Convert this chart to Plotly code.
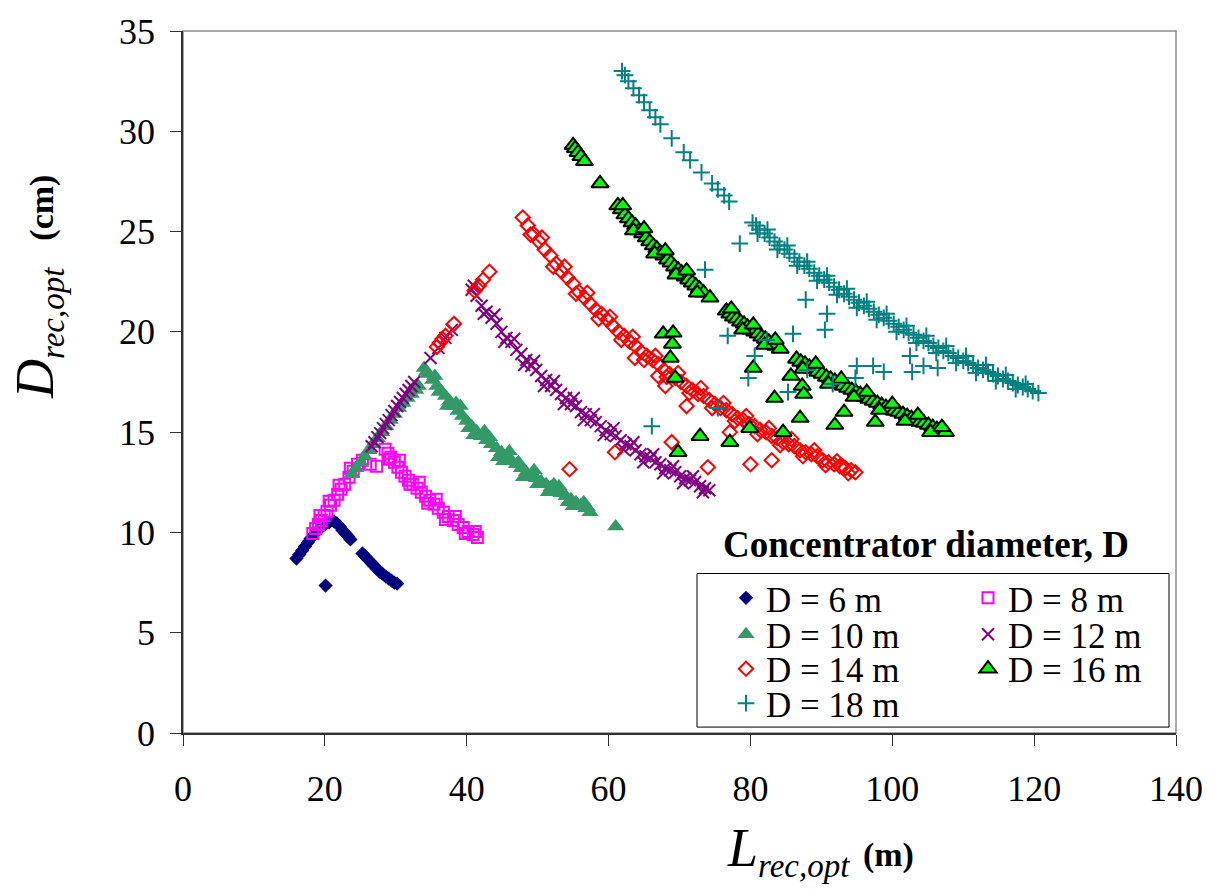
import plotly.graph_objects as go

FONT = "Liberation Serif"

# ---------------- data: receiver length L (m) vs receiver diameter D (cm) ----------------
# D = 6 m concentrator
L_6 = [16.0, 16.4, 16.8, 17.2, 17.6, 18.0, 18.5, 19.0, 19.5, 20.0, 20.6, 21.3,
       21.7, 22.1, 22.5, 22.9, 23.3, 23.6, 25.3, 25.7, 26.1, 26.5, 26.9, 27.3,
       27.7, 28.1, 28.6, 29.0, 29.4, 29.8, 30.2, 20.1]
D_6 = [8.7, 8.9, 9.1, 9.3, 9.5, 9.7, 9.9, 10.1, 10.25, 10.4, 10.5, 10.55,
       10.45, 10.3, 10.1, 9.95, 9.8, 9.65, 8.95, 8.8, 8.65, 8.5, 8.35, 8.2,
       8.05, 7.95, 7.8, 7.7, 7.6, 7.5, 7.45, 7.35]

# D = 8 m concentrator
L_8 = [18.3, 18.7, 19.1, 19.5, 19.9, 20.3, 20.8, 21.3, 21.8, 22.3, 22.8, 23.4,
       24.0, 24.6, 25.3, 26.4, 27.3, 28.5, 28.9, 29.3, 29.8, 30.3, 30.8, 31.3,
       31.8, 32.4, 33.0, 33.6, 34.2, 34.8, 35.4, 36.0, 36.7, 37.4, 38.1, 38.8,
       39.5, 40.2, 40.9, 41.5,
       19.3, 20.6, 22.0, 23.6,
       29.1, 30.5, 32.0, 33.3, 34.5, 35.7, 37.0, 38.4, 39.8, 41.2]
D_8 = [9.95, 10.2, 10.4, 10.6, 10.85, 11.05, 11.35, 11.6, 11.9, 12.15, 12.4, 12.75,
       13.05, 13.4, 13.6, 13.4, 13.3, 14.15, 13.95, 13.75, 13.5, 13.25, 13.0, 12.8,
       12.6, 12.4, 12.2, 12.0, 11.8, 11.6, 11.4, 11.2, 11.0, 10.8, 10.6, 10.4,
       10.25, 10.05, 9.9, 9.75,
       10.85, 11.55, 12.35, 13.2,
       13.65, 13.6, 12.4, 12.5, 11.45, 11.65, 10.65, 10.8, 9.95, 10.05]

# D = 10 m concentrator
L_10 = [23.8, 24.4, 25.0, 25.6, 26.2, 26.8, 27.4, 28.0, 28.6, 29.2, 29.8, 30.4,
        31.0, 31.6, 32.2, 32.8, 33.2,
        34.0, 34.6, 35.2, 35.8, 36.4, 37.0, 37.6, 38.2, 38.8, 39.4, 40.0, 40.7,
        41.4, 42.1, 42.8, 43.5, 44.2, 44.9, 45.6, 46.3, 47.0, 47.7, 48.4, 49.1,
        49.8, 50.5, 51.2, 51.9, 52.6, 53.3, 54.0, 54.7, 55.4, 56.1, 56.8, 57.4,
        61.0,
        35.5, 37.3, 39.1, 41.0, 42.5, 44.5, 46.0, 48.0, 49.5, 51.5, 53.0, 55.0,
        56.5,
        34.3, 36.1, 38.5, 40.3, 43.2, 45.2, 47.3, 50.0, 52.3, 54.3, 57.0]
D_10 = [12.9, 13.2, 13.5, 13.8, 14.1, 14.4, 14.7, 15.0, 15.3, 15.6, 15.9, 16.2,
        16.45, 16.7, 16.9, 17.1, 17.3,
        18.2, 17.9, 17.6, 17.3, 17.05, 16.8, 16.55, 16.3, 16.05, 15.8, 15.55, 15.3,
        15.05, 14.8, 14.6, 14.4, 14.2, 14.0, 13.8, 13.6, 13.4, 13.2, 13.0, 12.85,
        12.7, 12.55, 12.4, 12.25, 12.1, 11.95, 11.8, 11.65, 11.5, 11.35, 11.2, 11.0,
        10.3,
        17.8, 16.3, 16.3, 14.85, 15.05, 13.75, 14.05, 12.75, 13.1, 12.0, 12.3, 11.3,
        11.5,
        18.0, 17.0, 16.45, 15.2, 14.75, 13.55, 13.5, 12.4, 12.4, 11.5, 11.25]

# D = 12 m concentrator
L_12 = [26.6, 27.0, 27.4, 27.8, 28.2, 28.6, 29.0, 29.4, 29.8, 30.2, 30.6, 31.0,
        31.4, 31.8, 32.2, 32.6, 34.9, 36.0, 37.0, 37.9,
        40.7, 41.4, 42.1, 42.8, 43.5, 44.2, 44.9, 45.6, 46.3, 47.0, 47.7, 48.4,
        49.1, 49.8, 50.5, 51.2, 51.9, 52.6, 53.3, 54.0, 54.7, 55.4, 56.1, 56.8,
        57.5, 58.2, 58.9, 59.6, 60.3, 61.0, 61.7, 62.4, 63.1, 63.8, 64.5, 65.2,
        65.9, 66.6, 67.3, 68.0, 68.7, 69.4, 70.1, 70.8, 71.5, 72.2, 72.9, 73.6,
        74.2,
        41.0, 42.4, 43.9, 45.3, 46.7, 48.1, 49.5, 50.9, 52.3, 53.7, 55.1, 56.5,
        57.9, 59.3, 60.7, 62.1, 63.5, 64.9, 66.3, 67.7, 69.1, 70.5, 71.9, 73.3]
D_12 = [14.3, 14.5, 14.75, 14.95, 15.2, 15.4, 15.6, 15.85, 16.05, 16.3, 16.5, 16.7,
        16.9, 17.1, 17.3, 17.5, 18.7, 19.2, 19.7, 20.1,
        22.1, 21.8, 21.3, 21.0, 20.7, 20.4, 20.0, 19.7, 19.5, 19.1, 18.9, 18.6,
        18.3, 18.1, 17.8, 17.6, 17.3, 17.1, 16.9, 16.7, 16.4, 16.3, 16.0, 15.9,
        15.6, 15.5, 15.3, 15.1, 14.9, 14.8, 14.6, 14.4, 14.3, 14.1, 13.9, 13.8,
        13.7, 13.5, 13.4, 13.2, 13.1, 13.0, 12.8, 12.7, 12.6, 12.5, 12.3, 12.2,
        12.1,
        22.3, 20.9, 20.85, 19.5, 19.65, 18.35, 18.55, 17.3, 17.55, 16.4, 16.7, 15.6,
        15.9, 14.85, 15.2, 14.15, 14.5, 13.5, 13.9, 12.95, 13.3, 12.45, 12.8, 12.0]

# D = 14 m concentrator
L_14 = [35.8, 36.2, 36.6, 37.0, 38.2, 41.1, 41.7, 42.3, 43.2,
        47.9, 48.6, 49.4, 50.2, 51.0, 51.8, 52.6, 53.4, 54.2, 55.0, 55.8, 56.6,
        57.4, 58.2, 59.0, 59.8, 60.6, 61.4, 62.2, 63.0, 63.8, 64.6, 65.4, 66.2,
        67.0, 67.8, 68.6, 69.4, 70.2, 71.0, 71.8, 72.6, 73.4, 74.2, 75.0, 75.8,
        76.6, 77.4, 78.2, 79.0, 79.8, 80.6, 81.4, 82.2, 83.0, 83.8, 84.6, 85.4,
        86.2, 87.0, 87.8, 88.6, 89.4, 90.2, 91.0, 91.8, 92.6, 93.4, 94.2, 94.8,
        49.0, 50.6, 52.2, 53.8, 55.4, 57.0, 58.6, 60.2, 61.8, 63.4, 65.0, 66.6,
        68.2, 69.8, 71.4, 73.0, 74.6, 76.2, 77.8, 79.4, 81.0, 82.6, 84.2, 85.8,
        87.4, 89.0, 90.6, 92.2, 93.8,
        63.7, 67.0, 68.0, 71.0, 77.1, 68.9, 60.9, 54.5, 74.0, 80.0, 83.0, 93.0]
D_14 = [19.25, 19.45, 19.65, 19.8, 20.4, 22.05, 22.3, 22.6, 23.0,
        25.7, 25.3, 24.9, 24.5, 24.1, 23.8, 23.4, 23.0, 22.7, 22.4, 22.0, 21.7,
        21.4, 21.1, 20.9, 20.6, 20.3, 20.0, 19.8, 19.5, 19.3, 19.0, 18.8, 18.6,
        18.4, 18.1, 17.9, 17.7, 17.5, 17.3, 17.1, 16.9, 16.8, 16.6, 16.4, 16.2,
        16.1, 15.9, 15.7, 15.6, 15.4, 15.3, 15.1, 15.0, 14.8, 14.7, 14.5, 14.4,
        14.3, 14.1, 14.0, 13.9, 13.8, 13.6, 13.5, 13.4, 13.3, 13.2, 13.1, 13.0,
        24.85, 24.7, 23.25, 23.25, 21.9, 21.95, 20.65, 20.75, 19.6, 19.75, 18.6, 18.8,
        17.75, 17.95, 16.95, 17.2, 16.2, 16.45, 15.55, 15.8, 14.9, 15.2, 14.35, 14.65,
        13.8, 14.1, 13.35, 13.55, 12.95,
        18.7, 17.8, 17.3, 16.3, 15.0, 14.5, 14.0, 13.15, 13.25, 13.4, 13.6, 13.3]

# D = 16 m concentrator
L_16 = [55.0, 55.3, 55.7, 56.1, 56.6, 58.8,
        61.3, 61.8, 62.3, 62.8, 63.3, 63.8, 64.3, 64.8, 65.3, 65.8, 66.3, 66.8,
        67.3, 67.8, 68.3, 68.8, 69.3, 69.8, 70.3, 70.8, 71.3, 71.8, 72.3, 72.8,
        73.4, 74.3,
        76.6, 77.1, 77.6, 78.1, 78.6, 79.1, 79.6, 80.1, 80.6, 81.1, 81.6, 82.1,
        82.6, 83.1, 83.6, 84.2,
        86.5, 87.1, 87.7, 88.3, 88.9, 89.5, 90.1, 90.7, 91.3, 91.9, 92.5, 93.1,
        93.7, 94.3, 94.9, 95.5, 96.1, 96.7, 97.3, 97.9, 98.5, 99.1, 99.7, 100.3,
        100.9, 101.5, 102.1, 102.7, 103.3, 103.9, 104.5, 105.1, 105.7, 106.3,
        106.9, 107.5,
        62.0, 63.5, 65.0, 66.5, 68.0, 69.5, 71.0, 72.5,
        77.3, 78.9, 80.4, 82.0, 83.5,
        87.4, 89.2, 91.0, 92.8, 94.6, 96.4, 98.2, 100.0, 101.8, 103.6, 105.4, 107.0,
        67.7, 69.1, 69.0, 68.7, 69.4, 69.8, 72.9, 77.1, 79.9, 84.6, 80.4, 83.4,
        85.7, 87.3, 87.5, 87.0, 91.9, 93.2, 97.6]
D_16 = [29.3, 29.15, 28.95, 28.75, 28.5, 27.4,
        26.3, 26.1, 25.85, 25.65, 25.45, 25.3, 25.05, 24.9, 24.7, 24.5, 24.3, 24.15,
        23.95, 23.8, 23.6, 23.45, 23.25, 23.1, 22.95, 22.75, 22.6, 22.45, 22.3, 22.15,
        21.95, 21.7,
        21.05, 20.9, 20.75, 20.65, 20.5, 20.4, 20.25, 20.1, 20.0, 19.9, 19.75, 19.65,
        19.5, 19.4, 19.3, 19.15,
        18.65, 18.5, 18.4, 18.25, 18.15, 18.0, 17.9, 17.75, 17.65, 17.55, 17.45, 17.3,
        17.2, 17.1, 17.0, 16.9, 16.75, 16.65, 16.55, 16.45, 16.35, 16.25, 16.15, 16.05,
        16.0, 15.9, 15.8, 15.7, 15.6, 15.5, 15.45, 15.35, 15.25, 15.15,
        15.1, 15.0,
        26.3, 25.05, 25.15, 23.9, 24.05, 22.85, 23.05, 21.95,
        21.15, 20.1, 20.35, 19.35, 19.6,
        18.15, 18.4, 17.4, 17.65, 16.75, 17.0, 16.1, 16.4, 15.55, 15.85, 15.0, 15.25,
        19.9, 19.95, 19.4, 18.7, 17.7, 14.0, 14.8, 14.5, 15.2, 15.0, 18.2, 16.7,
        17.8, 17.3, 16.9, 15.7, 15.35, 16.0, 15.5]

# D = 18 m concentrator
L_18 = [61.9, 62.3, 62.8, 63.5, 64.3, 65.0, 65.8, 66.6, 67.3, 68.9, 70.6, 71.5,
        73.1, 74.6, 75.4, 76.3, 77.0,
        80.3, 80.8, 81.3, 82.0, 82.7, 83.4, 84.1, 84.8, 85.5, 86.2, 86.9, 87.6,
        88.3, 89.0, 89.7, 90.4, 91.1, 91.8, 92.5, 93.2, 93.9, 94.6, 95.3, 96.0,
        96.7, 97.4, 98.1, 98.8, 99.5, 100.2, 100.9, 101.6, 102.3, 103.0, 103.7,
        104.4, 105.1, 105.8, 106.5, 107.2, 107.9, 108.6, 109.3, 110.0, 110.7,
        111.4, 112.1, 112.8, 113.5, 114.2, 114.9, 115.6, 116.3, 117.0, 117.7,
        118.4, 119.1, 119.8, 120.6,
        81.0, 82.4, 83.8, 85.2, 86.6, 88.0, 89.4, 90.8, 92.2, 93.6, 95.0, 96.4,
        97.8, 99.2, 100.6, 102.0, 103.4, 104.8, 106.2, 107.6, 109.0, 110.4, 111.8,
        113.2, 114.6, 116.0, 117.4, 118.8,
        73.6, 78.5, 76.8, 82.3, 80.6, 79.7, 75.4, 66.1, 86.0, 87.8, 90.8, 90.5,
        88.0, 85.3, 91.6, 95.0, 94.8, 97.3, 98.8, 102.5, 104.4, 106.4, 102.8]
D_18 = [33.0, 32.8, 32.5, 32.15, 31.8, 31.45, 31.05, 30.7, 30.35, 29.65, 28.95, 28.55,
        27.95, 27.4, 27.1, 26.8, 26.5,
        25.45, 25.3, 25.1, 24.9, 24.7, 24.5, 24.3, 24.1, 23.9, 23.7, 23.5, 23.3,
        23.15, 22.95, 22.8, 22.6, 22.45, 22.25, 22.1, 21.9, 21.75, 21.6, 21.45, 21.3,
        21.15, 21.0, 20.85, 20.7, 20.55, 20.4, 20.25, 20.1, 19.95, 19.85, 19.7,
        19.55, 19.45, 19.3, 19.2, 19.05, 18.95, 18.8, 18.7, 18.55, 18.45,
        18.35, 18.2, 18.1, 18.0, 17.9, 17.8, 17.65, 17.55, 17.45, 17.35,
        17.25, 17.15, 17.05, 16.95,
        24.9, 25.1, 24.1, 24.3, 23.3, 23.5, 22.55, 22.8, 21.85, 22.15, 21.2, 21.5,
        20.6, 20.9, 20.0, 20.3, 19.45, 19.8, 18.95, 19.3, 18.45, 18.8, 17.95,
        18.35, 17.55, 17.85, 17.15, 17.4,
        23.1, 24.4, 19.8, 19.6, 18.8, 17.7, 16.2, 15.3, 19.9, 21.6, 20.9, 20.1,
        18.1, 17.0, 17.4, 18.3, 17.7, 18.3, 18.0, 18.8, 18.3, 18.2, 18.0]

# ---------------- layout geometry ----------------
W, H = 1220, 892
ML, MR, MT, MB = 183, 44, 20, 159
PW, PH = W - ML - MR, H - MT - MB


def px_x(p):
    return (p - ML) / PW


def px_y(p):
    return (H - MB - p) / PH


# legend slots: (legend id, left px, row centre px)
COL1, COL2 = 726, 968
ROWS = [596, 633, 668, 703]

series = [
    ("D = 6 m", L_6, D_6, ("legend", COL1, ROWS[0]),
     dict(symbol="diamond", size=11, color="#000080", line=dict(width=0))),
    ("D = 8 m", L_8, D_8, ("legend2", COL2, ROWS[0]),
     dict(symbol="square-open", size=11, color="#FF00FF",
          line=dict(color="#FF00FF", width=2))),
    ("D = 10 m", L_10, D_10, ("legend3", COL1, ROWS[1]),
     dict(symbol="triangle-up", size=15, color="#339966", line=dict(width=0))),
    ("D = 12 m", L_12, D_12, ("legend4", COL2, ROWS[1]),
     dict(symbol="x-thin-open", size=12, color="#800080",
          line=dict(color="#800080", width=2))),
    ("D = 14 m", L_14, D_14, ("legend5", COL1, ROWS[2]),
     dict(symbol="diamond-open", size=11, color="#FF0000",
          line=dict(color="#FF0000", width=2))),
    ("D = 16 m", L_16, D_16, ("legend6", COL2, ROWS[2]),
     dict(symbol="triangle-up", size=15, color="#00FF00",
          line=dict(color="#000000", width=2))),
    ("D = 18 m", L_18, D_18, ("legend7", COL1, ROWS[3]),
     dict(symbol="cross-thin-open", size=12, color="#008080",
          line=dict(color="#008080", width=2))),
]

fig = go.Figure()
legend_layouts = {}
legend_font = dict(family=FONT, size=35, color="black")
for name, xs, ys, (leg, lx, ly), marker in series:
    fig.add_trace(go.Scatter(x=xs, y=ys, mode="markers", name=name,
                             marker=marker, legend=leg, cliponaxis=False))
    legend_layouts[leg] = dict(x=px_x(lx), y=px_y(ly), xanchor="left",
                               yanchor="middle", font=legend_font,
                               bgcolor="rgba(0,0,0,0)", borderwidth=0,
                               itemwidth=30)

axis_font = dict(family=FONT, size=36, color="black")

fig.update_layout(
    width=W, height=H,
    margin=dict(l=ML, r=MR, t=MT, b=MB, pad=0),
    paper_bgcolor="white", plot_bgcolor="white",
    showlegend=True,
    xaxis=dict(range=[0, 140], dtick=20, tick0=0, showgrid=False, zeroline=False,
               showline=True, linecolor="#303030", linewidth=1.5,
               ticks="outside", ticklen=11, tickcolor="#303030", tickwidth=1,
               ticklabelstandoff=12, tickfont=axis_font),
    yaxis=dict(range=[0, 35], dtick=5, tick0=0, showgrid=False, zeroline=False,
               showline=True, linecolor="#303030", linewidth=1.5,
               ticks="outside", ticklen=11, tickcolor="#303030", tickwidth=1,
               ticklabelstandoff=8, tickfont=axis_font),
    shapes=[
        # plot-area frame
        dict(type="rect", xref="paper", yref="paper", x0=0, x1=1, y0=0, y1=1,
             line=dict(color="#8c8c8c", width=1.5), layer="below"),
        # legend box
        dict(type="rect", xref="paper", yref="paper",
             x0=px_x(697), x1=px_x(1169), y0=px_y(727), y1=px_y(571),
             line=dict(color="black", width=1), fillcolor="white", layer="below"),
    ],
    annotations=[
        dict(text="<b>Concentrator diameter, D</b>", xref="paper", yref="paper",
             x=px_x(926), y=px_y(542), xanchor="center", yanchor="middle",
             showarrow=False, font=dict(family=FONT, size=37, color="black")),
        dict(text='<i>D</i><sub><i><span style="font-size:33px">rec,opt</span></i></sub>'
                  '\u00a0\u00a0<b><span style="font-size:34px">(cm)</span></b>',
             xref="paper", yref="paper", x=px_x(38), y=px_y(280),
             xanchor="center", yanchor="middle", textangle=-90, showarrow=False,
             font=dict(family=FONT, size=54, color="black")),
        dict(text='<i>L</i><sub><i><span style="font-size:33px">rec,opt</span></i></sub>'
                  '\u00a0<b><span style="font-size:34px">(m)</span></b>',
             xref="paper", yref="paper", x=px_x(820), y=px_y(853),
             xanchor="center", yanchor="middle", showarrow=False,
             font=dict(family=FONT, size=54, color="black")),
    ],
    **legend_layouts,
)

fig.write_html("out.html")
